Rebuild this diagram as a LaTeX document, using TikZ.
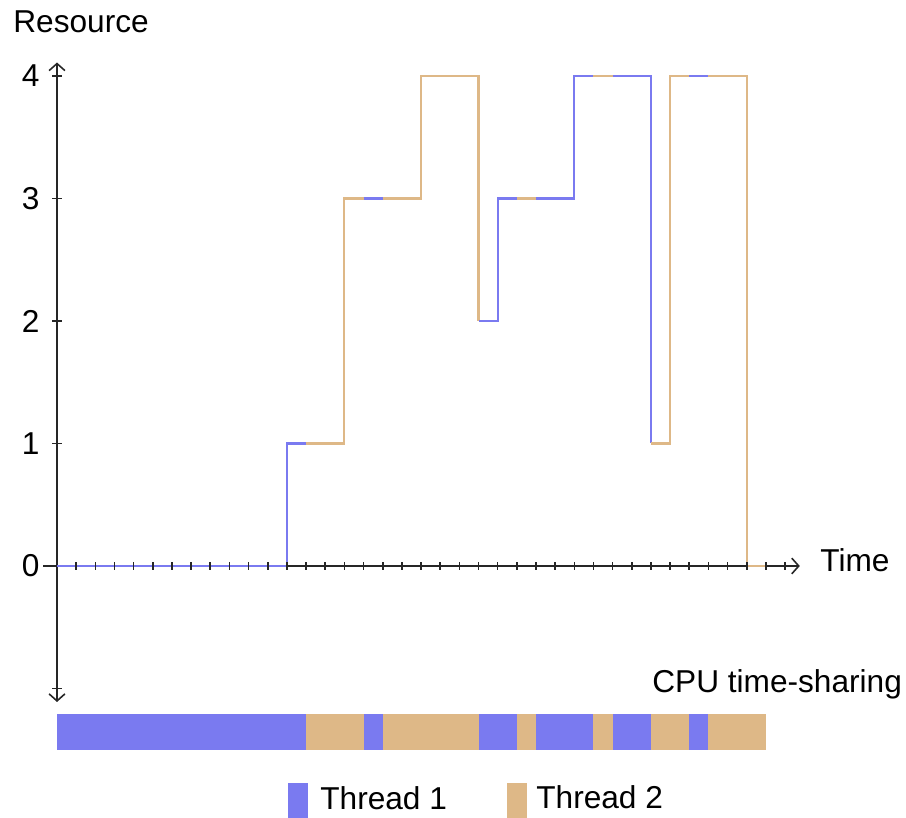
\documentclass[tikz,border=0pt]{standalone}
\usepackage{fontspec}
\setmainfont{Liberation Sans}
\usetikzlibrary{arrows.meta}
\definecolor{threadone}{RGB}{122,122,240}
\definecolor{threadtwo}{RGB}{222,184,135}

\begin{document}
\begin{tikzpicture}[>={Straight Barb[length=4pt,width=9pt]},font=\fontsize{18}{21.6}\selectfont,line cap=butt]
\tikzset{axisline/.style={black!85,line width=0.9pt},
  runline/.style={line width=1.2pt,line join=miter}}
\useasboundingbox (0,0) rectangle (18.12,16.36);
% resource curve
\begin{scope}[shift={(1.14,5.04)},x=0.3832cm,y=2.45cm]
\draw[axisline,<->] (0,-1.11) -- (0,4.11);
\draw[axisline,->] (-0.73,0) -- (38.77,0);
\foreach \v in {-1,...,4}
  \draw[axisline] (0,\v) ++(-0.1cm,0) -- ++(0.2cm,0);
\foreach \v in {0,...,4}
  \node[anchor=east,inner sep=0] (ylab\v) at (-0.9,\v) {\v};
\draw[runline,threadone] (0,0) -- (12,0) -- (12,1) -- (13,1);
\draw[runline,threadtwo] (13,1) -- (15,1) -- (15,3) -- (16,3);
\draw[runline,threadone] (16,3) -- (17,3);
\draw[runline,threadtwo] (17,3) -- (19,3) -- (19,4) -- (22,4) -- (22,2);
\draw[runline,threadone] (22,2) -- (23,2) -- (23,3) -- (24,3);
\draw[runline,threadtwo] (24,3) -- (25,3);
\draw[runline,threadone] (25,3) -- (27,3) -- (27,4) -- (28,4);
\draw[runline,threadtwo] (28,4) -- (29,4);
\draw[runline,threadone] (29,4) -- (31,4) -- (31,1);
\draw[runline,threadtwo] (31,1) -- (32,1) -- (32,4) -- (33,4);
\draw[runline,threadone] (33,4) -- (34,4);
\draw[runline,threadtwo] (34,4) -- (36,4) -- (36,0) -- (37,0);
\foreach \t in {1,...,38}
  \draw[axisline] (\t,0) ++(0,-0.08cm) -- ++(0,0.16cm);
\end{scope}
% time-sharing bar
\begin{scope}[shift={(1.14,1.36)},x=0.3832cm,y=0.72cm]
\foreach \a/\b/\c in {0/13/threadone,13/16/threadtwo,16/17/threadone,17/22/threadtwo,
    22/24/threadone,24/25/threadtwo,25/28/threadone,28/29/threadtwo,29/31/threadone,
    31/33/threadtwo,33/34/threadone,34/37/threadtwo}
  \fill[\c] (\a,0) rectangle (\b,1);
\end{scope}
\node[anchor=base west,inner sep=0] (reslab) at (0.26,15.70) {Resource};
\node[anchor=base west,inner sep=0] (timelab) at (16.40,4.92) {Time};
\node[anchor=base west,inner sep=0] (cpulab) at (13.04,2.50) {CPU time-sharing};
% legend
\fill[threadone] (5.76,0) rectangle (6.16,0.70);
\node[anchor=base west,inner sep=0] (legone) at (6.40,0.16) {Thread 1};
\fill[threadtwo] (10.14,0) rectangle (10.54,0.70);
\node[anchor=base west,inner sep=0] (legtwo) at (10.72,0.20) {Thread 2};
\end{tikzpicture}
\end{document}
